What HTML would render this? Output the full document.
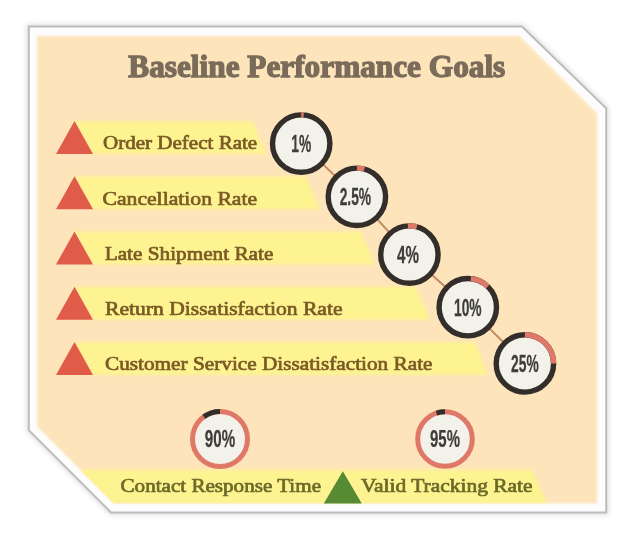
<!DOCTYPE html>
<html><head><meta charset="utf-8">
<style>
html,body{margin:0;padding:0;background:#fff;width:640px;height:539px;overflow:hidden}
svg{display:block;filter:blur(0.6px)}
</style></head><body>
<svg width="640" height="539" viewBox="0 0 640 539">
<defs>
<filter id="sh" x="-10%" y="-10%" width="120%" height="120%"><feGaussianBlur stdDeviation="2.5"/></filter>
<filter id="bb" x="-5%" y="-20%" width="110%" height="140%"><feGaussianBlur stdDeviation="1.6"/></filter>
<filter id="pb" x="-2%" y="-2%" width="104%" height="104%"><feGaussianBlur stdDeviation="1.2"/></filter>
<clipPath id="pc"><polygon points="37,36 519.5,36 597,113.5 597,503.5 114,503.5 37,426.5"/></clipPath>
</defs>
<polygon points="28.8,26.6 522,26.6 606.2,108.3 606.2,512.4 111,512.4 28.8,430.2" fill="none" stroke="#d8d8d8" stroke-width="4" filter="url(#sh)"/>
<polygon points="28.8,26.6 522,26.6 606.2,108.3 606.2,512.4 111,512.4 28.8,430.2" fill="#fdfdfd" stroke="#bcbcbc" stroke-width="2"/>
<polygon points="37,36 519.5,36 597,113.5 597,503.5 114,503.5 37,426.5" fill="#fee4bb" filter="url(#pb)"/>
<text x="128.3" y="76.6" font-family="Liberation Serif" font-weight="bold" font-size="30.6" fill="#7a6c5a" stroke="#7a6c5a" stroke-width="1.3" textLength="377" lengthAdjust="spacingAndGlyphs">Baseline Performance Goals</text>

<g fill="#fdf391" filter="url(#bb)">
<polygon points="74,121.0 252,121.0 267,154.0 92,154.0"/>
<polygon points="74,176.25 306,176.25 320,209.25 92,209.25"/>
<polygon points="74,231.5 361,231.5 375,264.5 92,264.5"/>
<polygon points="74,286.75 416,286.75 430,319.75 92,319.75"/>
<polygon points="74,342.0 475,342.0 488,375.0 92,375.0"/>
</g>
<g clip-path="url(#pc)"><polygon points="0,469.5 532,469.5 547.5,503.5 0,503.5" fill="#fdf391" filter="url(#bb)"/></g>
<g fill="#e05b48">
<polygon points="74.5,121.0 93,154.0 56,154.0"/>
<polygon points="74.5,176.25 93,209.25 56,209.25"/>
<polygon points="74.5,231.5 93,264.5 56,264.5"/>
<polygon points="74.5,286.75 93,319.75 56,319.75"/>
<polygon points="74.5,342.0 93,375.0 56,375.0"/>
</g>
<polygon points="342.8,471.3 361.8,503.5 323.8,503.5" fill="#568a33"/>
<g font-family="Liberation Serif" font-size="19.5" fill="#7b5a25" stroke="#7b5a25" stroke-width="0.7">
<text x="103" y="149.4" textLength="154.2" lengthAdjust="spacingAndGlyphs">Order Defect Rate</text>
<text x="102.5" y="204.65" textLength="154.6" lengthAdjust="spacingAndGlyphs">Cancellation Rate</text>
<text x="104.7" y="259.9" textLength="168.7" lengthAdjust="spacingAndGlyphs">Late Shipment Rate</text>
<text x="105" y="315.15" textLength="237.5" lengthAdjust="spacingAndGlyphs">Return Dissatisfaction Rate</text>
<text x="105" y="370.4" textLength="327.5" lengthAdjust="spacingAndGlyphs">Customer Service Dissatisfaction Rate</text>
</g>
<g font-family="Liberation Serif" font-size="19.5" fill="#6c6a28" stroke="#6c6a28" stroke-width="0.7">
<text x="120.5" y="492" textLength="200.5" lengthAdjust="spacingAndGlyphs">Contact Response Time</text>
<text x="361" y="492" textLength="171.5" lengthAdjust="spacingAndGlyphs">Valid Tracking Rate</text>
</g>
<polyline points="301.2,143.6 356.9,196.8 409.4,254.6 467.8,307.2 524.9,363.4" fill="none" stroke="#c68a62" stroke-width="2"/>
<circle cx="301.2" cy="143.6" r="28.7" fill="#f2f1ea" stroke="#332e29" stroke-width="5.4"/>
<path d="M301.20,114.90 A28.7,28.7 0 0 1 303.70,115.01" fill="none" stroke="#e07868" stroke-width="5.4"/>
<circle cx="356.9" cy="196.8" r="28.7" fill="#f2f1ea" stroke="#332e29" stroke-width="5.4"/>
<path d="M356.90,168.10 A28.7,28.7 0 0 1 364.33,169.08" fill="none" stroke="#e07868" stroke-width="5.4"/>
<circle cx="409.4" cy="254.6" r="28.7" fill="#f2f1ea" stroke="#332e29" stroke-width="5.4"/>
<path d="M407.90,225.94 A28.7,28.7 0 0 1 416.83,226.88" fill="none" stroke="#e07868" stroke-width="5.4"/>
<circle cx="467.8" cy="307.2" r="28.7" fill="#f2f1ea" stroke="#332e29" stroke-width="5.4"/>
<path d="M470.80,278.66 A28.7,28.7 0 0 1 487.74,286.55" fill="none" stroke="#e07868" stroke-width="5.4"/>
<circle cx="524.9" cy="363.4" r="28.7" fill="#f2f1ea" stroke="#332e29" stroke-width="5.4"/>
<path d="M524.90,334.70 A28.7,28.7 0 0 1 553.60,363.40" fill="none" stroke="#e07868" stroke-width="5.4"/>
<circle cx="220" cy="439" r="27.5" fill="#f2f1ea" stroke="#e07868" stroke-width="5"/>
<path d="M203.84,416.75 A27.5,27.5 0 0 1 220.00,411.50" fill="none" stroke="#332e29" stroke-width="5"/>
<circle cx="445" cy="439" r="27.3" fill="#f2f1ea" stroke="#e07868" stroke-width="5"/>
<path d="M436.56,413.04 A27.3,27.3 0 0 1 445.00,411.70" fill="none" stroke="#332e29" stroke-width="5"/>
<g font-family="Liberation Sans" font-weight="bold" font-size="23" fill="#3e3d3b" text-anchor="middle" stroke="#3e3d3b" stroke-width="0.25">
<text transform="translate(301.2,151.9) scale(0.6,1)">1%</text>
<text transform="translate(355.4,205.10000000000002) scale(0.6,1)">2.5%</text>
<text transform="translate(407.9,262.9) scale(0.66,1)">4%</text>
<text transform="translate(467.8,315.5) scale(0.6,1)">10%</text>
<text transform="translate(524.9,371.7) scale(0.6,1)">25%</text>
<text transform="translate(220,447.3) scale(0.66,1)">90%</text>
<text transform="translate(445,447.3) scale(0.65,1)">95%</text>
</g>
</svg>
</body></html>
